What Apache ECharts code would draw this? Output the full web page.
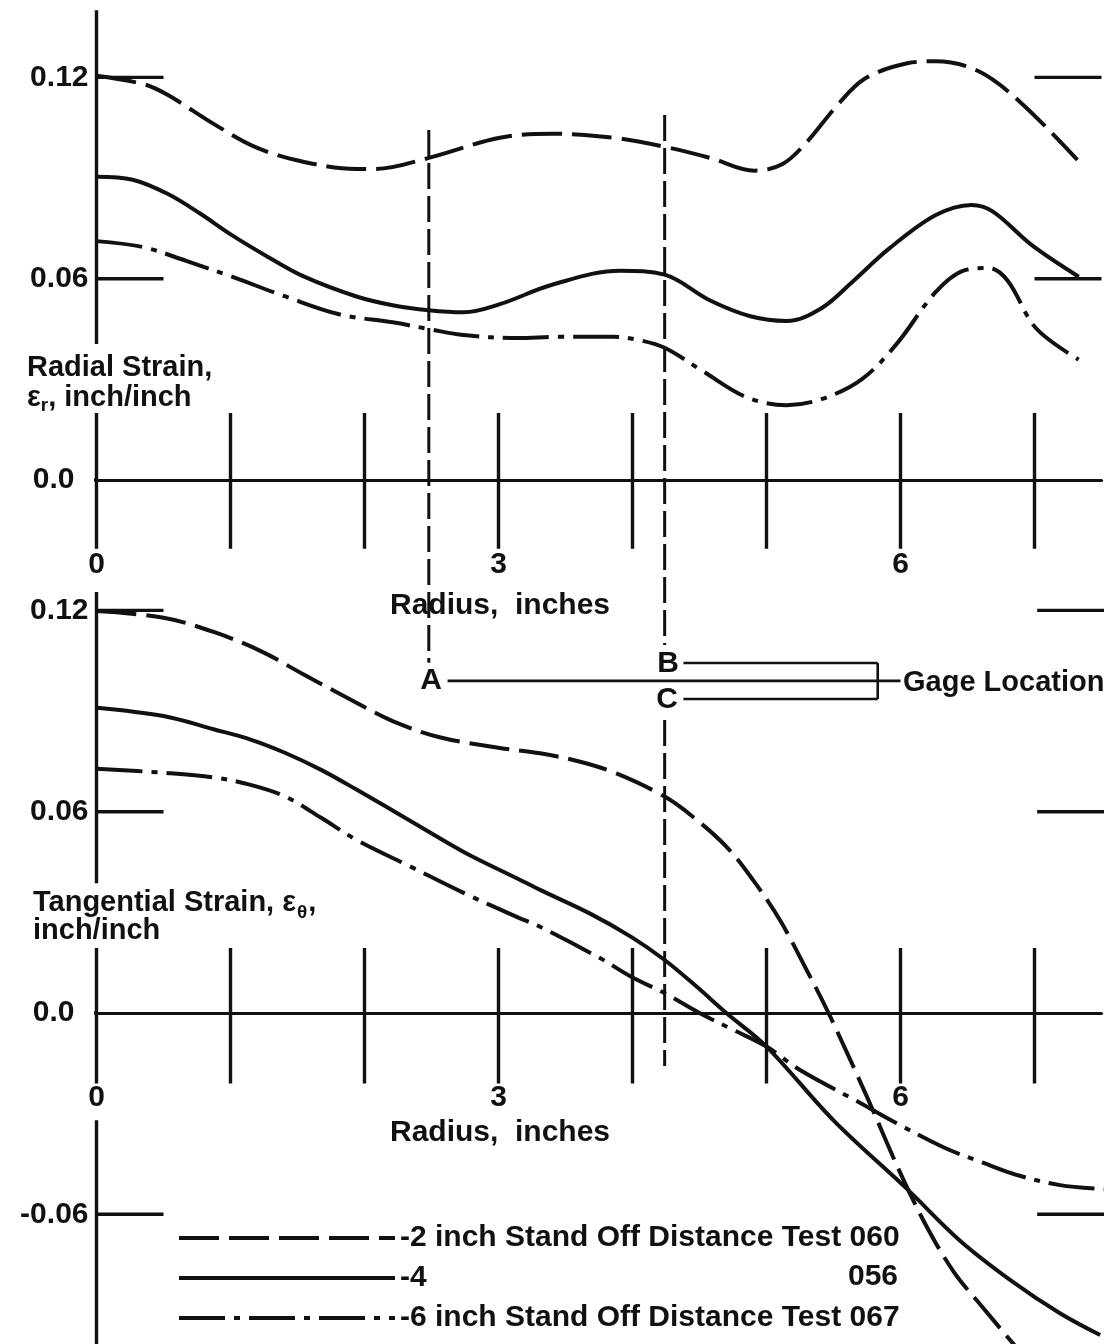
<!DOCTYPE html>
<html>
<head>
<meta charset="utf-8">
<script src="https://cdn.jsdelivr.net/npm/echarts@6/dist/echarts.min.js"></script>
<style>
  html, body { margin: 0; padding: 0; background: #fff; }
  #chart { width: 1111px; height: 1344px; }
</style>
</head>
<body>
<div id="chart"></div>
<script>
// radial strain (upper panel), radius in inches
const radialR060 = [0, 0.35, 0.53, 0.88, 1.2, 1.55, 1.94, 2.08, 2.48, 3.01, 3.4, 3.86, 4.24, 4.58, 4.91, 5.12, 5.3, 5.52, 5.73, 6.05, 6.26, 6.58, 6.9, 7.32];
const radial060 = [0.1205, 0.118, 0.1148, 0.106, 0.099, 0.0948, 0.0927, 0.0927, 0.096, 0.102, 0.1032, 0.102, 0.0993, 0.096, 0.0922, 0.0942, 0.1007, 0.1113, 0.1195, 0.1242, 0.1248, 0.1219, 0.1124, 0.0954];
const radialR056 = [0, 0.27, 0.53, 0.77, 1.01, 1.28, 1.55, 1.94, 2.21, 2.48, 2.74, 3.01, 3.4, 3.91, 4.24, 4.58, 4.88, 5.15, 5.41, 5.65, 5.91, 6.26, 6.53, 6.69, 6.98, 7.33];
const radial056 = [0.0904, 0.0895, 0.0853, 0.0795, 0.073, 0.0665, 0.0606, 0.0547, 0.0521, 0.0506, 0.05, 0.0524, 0.0582, 0.0624, 0.0612, 0.0535, 0.0488, 0.0474, 0.0512, 0.0594, 0.0688, 0.0789, 0.082, 0.08, 0.07, 0.0606];
const radialR067 = [0, 0.35, 0.67, 1.01, 1.41, 1.81, 2.21, 2.48, 2.74, 3.14, 3.45, 3.86, 4.05, 4.24, 4.53, 4.85, 5.15, 5.41, 5.71, 5.97, 6.26, 6.47, 6.66, 6.8, 7.01, 7.33];
const radial067 = [0.0712, 0.0694, 0.0653, 0.0606, 0.0547, 0.0494, 0.047, 0.045, 0.0432, 0.0423, 0.0427, 0.0427, 0.0417, 0.0394, 0.0323, 0.0247, 0.0223, 0.0241, 0.03, 0.0405, 0.0559, 0.0624, 0.0632, 0.0594, 0.0453, 0.0359];

// tangential strain (lower panel)
const tangR060 = [0, 0.5, 0.88, 1.23, 1.55, 1.94, 2.21, 2.56, 3.01, 3.31, 3.61, 3.88, 4.24, 4.45, 4.7, 4.9, 5.1, 5.3, 5.47, 5.75, 6.0, 6.2, 6.4, 6.6, 6.85];
const tang060 = [0.1198, 0.1178, 0.1135, 0.1078, 0.1008, 0.0925, 0.087, 0.0822, 0.079, 0.0774, 0.0749, 0.0714, 0.0645, 0.0585, 0.0496, 0.0396, 0.0277, 0.0128, -0.0006, -0.025, -0.0478, -0.064, -0.0773, -0.0871, -0.099];
const tangR056 = [0, 0.5, 0.88, 1.15, 1.41, 1.68, 1.94, 2.34, 2.74, 3.14, 3.31, 3.68, 3.99, 4.24, 4.48, 4.7, 5.0, 5.5, 6.05, 6.44, 6.82, 7.19, 7.49];
const tang056 = [0.091, 0.0885, 0.0845, 0.0815, 0.0775, 0.0724, 0.0666, 0.0573, 0.048, 0.0401, 0.0367, 0.0297, 0.0227, 0.0158, 0.0078, 0.0, -0.01, -0.032, -0.0525, -0.0677, -0.0796, -0.0895, -0.096];
const tangR067 = [0, 0.5, 0.88, 1.15, 1.41, 1.68, 1.94, 2.34, 2.74, 3.14, 3.31, 3.76, 3.99, 4.24, 4.5, 4.75, 5.0, 5.25, 5.7, 5.95, 6.32, 6.62, 6.87, 7.19, 7.52];
const tang067 = [0.0728, 0.0716, 0.0702, 0.068, 0.0645, 0.0581, 0.0516, 0.0437, 0.0358, 0.0286, 0.0257, 0.0163, 0.0108, 0.0059, 0.0, -0.005, -0.01, -0.017, -0.0268, -0.0324, -0.04, -0.0447, -0.0483, -0.0513, -0.0525];

const seriesNames = ['-2 inch Stand Off Distance Test 060', '-4', '-6 inch Stand Off Distance Test 067'];
const tickR = [0, 1, 2, 3, 4, 5, 6, 7];
const radialMarks = [0.12, 0.06];
const tangMarks = [0.12, 0.06, -0.06];
const gageR = [2.48, 4.24];   // A, and B/C

const FONT = '"Liberation Sans", Arial, sans-serif';
const INK = '#111';
const LONG_DASH = [40, 10];
const DASH_DOT = [46, 9, 6, 9];

const chart = echarts.init(document.getElementById('chart'));

function pairs(rs, vs) { return rs.map((r, i) => [r, vs[i]]); }

// several straight pieces in one line series, broken by null points
function pieces(list) {
  const out = [];
  list.forEach(p => { out.push(p[0], p[1], [p[1][0], null]); });
  return out;
}

function curve(name, gi, rs, vs, dash) {
  return {
    name, type: 'line', xAxisIndex: gi, yAxisIndex: gi,
    data: pairs(rs, vs), smooth: 0.35, symbol: 'none', clip: false, silent: true, z: 2,
    itemStyle: { color: INK },
    lineStyle: { color: INK, width: 4, type: dash }
  };
}

function strokes(gi, list, width, dash) {
  return {
    type: 'line', xAxisIndex: gi, yAxisIndex: gi, data: pieces(list),
    symbol: 'none', clip: false, silent: true, connectNulls: false, z: 3,
    lineStyle: { color: INK, width, type: dash || 'solid' }
  };
}

const topFrame = [
  [[0, 0.14], [0, 0.0405]],
  ...tickR.map(r => [[r, 0.02], [r, -0.0205]]),
  ...radialMarks.map(v => [[0, v], [0.5, v]]),
  ...radialMarks.map(v => [[7, v], [7.5, v]]),
  [[-0.11, 0], [0, 0]]
];
const bottomFrame = [
  [[0, 0.1255], [0, 0.0387]],
  ...tickR.map(r => [[r, 0.0194], [r, -0.021]]),
  [[0, -0.032], [0, -0.1]],
  ...tangMarks.map(v => [[0, v], [0.5, v]]),
  ...tangMarks.map(v => [[7.02, v], [7.52, v]]),
  [[-0.11, 0], [0, 0]]
];

const gageTop = [
  [[gageR[0], 0.1043], [gageR[0], -0.0545]],
  [[gageR[1], 0.1088], [gageR[1], -0.0492]]
];
const gageBottom = [[[gageR[1], 0.0873], [gageR[1], -0.0158]]];
const bracket = [
  [[2.62, 0.099], [6.0, 0.099]],
  [[4.38, 0.1043], [5.83, 0.1043]],
  [[4.38, 0.0936], [5.83, 0.0936]],
  [[5.83, 0.1043], [5.83, 0.0936]]
];

function yLabel(v) {
  const k = Math.round(v * 100);
  if (k === 0) return '{z|0.0}';
  if (k === 12) return '0.12';
  if (k === 6) return '0.06';
  if (k === -6) return '-0.06';
  return '';
}

const labelStyle = { fontFamily: FONT, fontWeight: 'bold', fontSize: 30, color: INK };

const S = 3355;   // pixels per unit strain

// x axis placed on the zero line by shifting it up from the grid bottom
function xAxis(gi, yMin, margin, nameGap) {
  return {
    type: 'value', gridIndex: gi, min: 0, max: 7.5, interval: 1,
    offset: yMin * S,
    axisLine: { show: true, onZero: false, lineStyle: { color: INK, width: 3.2 } },
    axisTick: { show: false }, splitLine: { show: false },
    axisLabel: Object.assign({ margin, formatter: v => (v % 3 === 0 ? String(v) : '') }, labelStyle),
    name: 'Radius,  inches', nameLocation: 'middle', nameGap,
    nameTextStyle: Object.assign({ padding: [0, 198, 0, 0] }, labelStyle)
  };
}

function yAxis(gi, min, max) {
  return {
    type: 'value', gridIndex: gi, min, max, interval: 0.02,
    axisLine: { show: false }, axisTick: { show: false }, splitLine: { show: false },
    axisLabel: Object.assign({
      margin: 8, formatter: yLabel,
      rich: { z: Object.assign({ padding: [0, 14, 0, 0] }, labelStyle) }
    }, labelStyle)
  };
}

const ctx = document.createElement('canvas').getContext('2d');
function textWidth(str, size) {
  ctx.font = 'bold ' + size + 'px ' + FONT;
  return ctx.measureText(str).width;
}
function text(str, x, y, size, align) {
  const style = {
    text: str, fill: INK, font: 'bold ' + size + 'px ' + FONT,
    align: align || 'left', verticalAlign: 'middle',
    textAlign: align || 'left', textVerticalAlign: 'middle'
  };
  return { type: 'text', x, y, z: 100, silent: true, style };
}

// axis titles built from pieces so subscripts can sit lower
const graphics = [];
graphics.push(text('Radial Strain,', 27, 368, 29));
let gx = 27;
graphics.push(text('\u03b5', gx, 398, 29)); gx += textWidth('\u03b5', 29);
graphics.push(text('r', gx, 406, 19)); gx += textWidth('r', 19);
graphics.push(text(', inch/inch', gx, 398, 29));

gx = 33;
graphics.push(text('Tangential Strain, \u03b5', gx, 903, 29)); gx += textWidth('Tangential Strain, \u03b5', 29);
graphics.push(text('\u03b8', gx + 1, 913, 19)); gx += textWidth('\u03b8', 19) + 2;
graphics.push(text(',', gx, 903, 29));
graphics.push(text('inch/inch', 33, 931, 29));

graphics.push(text('A', 431, 681, 30, 'center'));
graphics.push(text('B', 668, 664, 30, 'center'));
graphics.push(text('C', 667, 700, 30, 'center'));
graphics.push(text('Gage Location', 903, 683, 29));
graphics.push(text('056', 898, 1277, 30, 'right'));

const option = {
  animation: false,
  backgroundColor: '#fff',
  grid: [
    { left: 96.5, top: 480 - 0.14 * S, width: 1005, height: 0.16 * S, containLabel: false, outerBoundsMode: 'none' },
    { left: 96.5, top: 1013 - 0.125 * S, width: 1005, height: 0.225 * S, containLabel: false, outerBoundsMode: 'none' }
  ],
  xAxis: [xAxis(0, -0.02, 70, 111), xAxis(1, -0.1, 70, 105)],
  yAxis: [yAxis(0, -0.02, 0.14), yAxis(1, -0.1, 0.125)],
  legend: {
    data: seriesNames, orient: 'vertical', left: 177, top: 1223, padding: 0,
    itemWidth: 216, itemHeight: 14, itemGap: 10, selectedMode: false,
    itemStyle: { opacity: 0 },
    lineStyle: { width: 4, color: INK },
    textStyle: Object.assign({ padding: 0 }, labelStyle)
  },
  graphic: graphics,
  series: [
    curve(seriesNames[0], 0, radialR060, radial060, LONG_DASH),
    curve(seriesNames[1], 0, radialR056, radial056, 'solid'),
    curve(seriesNames[2], 0, radialR067, radial067, DASH_DOT),
    curve(seriesNames[0], 1, tangR060, tang060, LONG_DASH),
    curve(seriesNames[1], 1, tangR056, tang056, 'solid'),
    curve(seriesNames[2], 1, tangR067, tang067, DASH_DOT),
    strokes(0, topFrame, 3.4),
    strokes(1, bottomFrame, 3.4),
    strokes(0, gageTop, 3, [26, 7]),
    strokes(1, gageBottom, 3, [26, 7]),
    strokes(1, bracket, 2.6)
  ]
};
chart.setOption(option);
</script>
</body>
</html>
